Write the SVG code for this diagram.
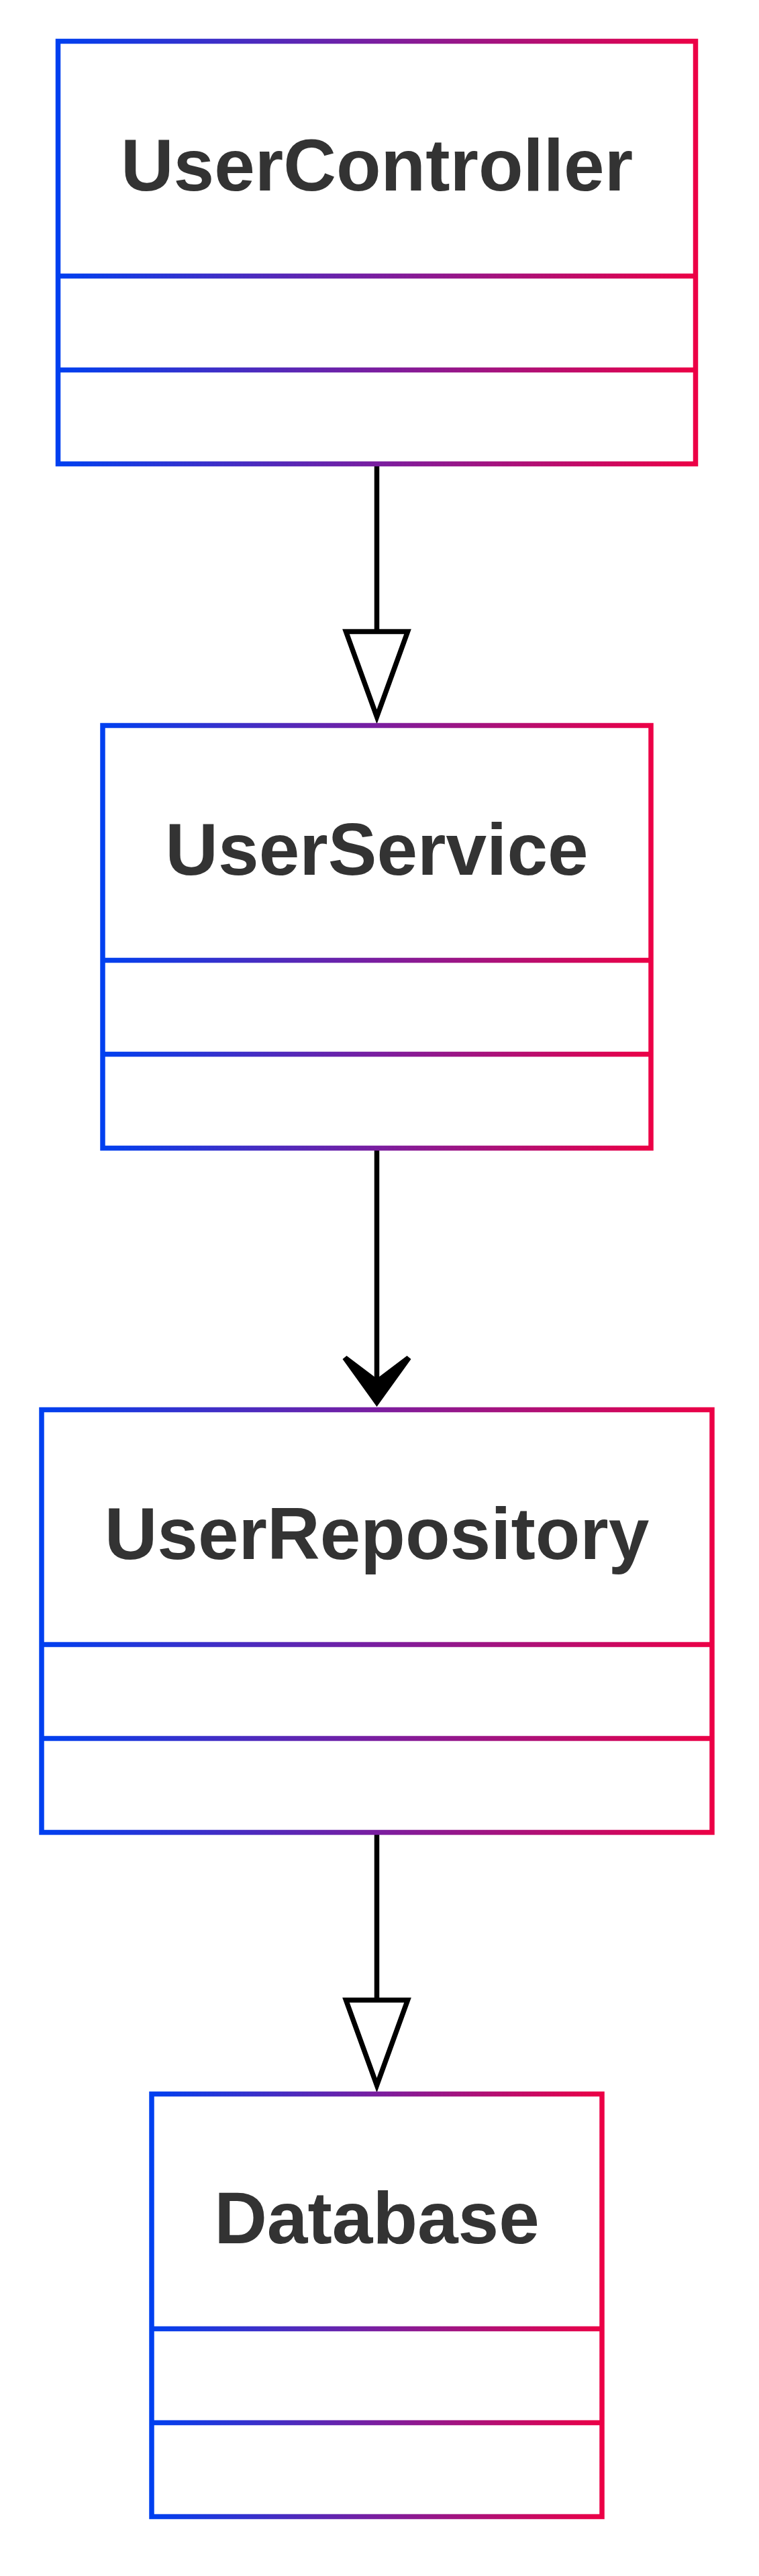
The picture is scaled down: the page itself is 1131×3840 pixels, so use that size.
<svg xmlns="http://www.w3.org/2000/svg" width="1131" height="3840" viewBox="0 0 1131 3840">
  <defs>
    <linearGradient id="boxGrad" x1="0" y1="0" x2="1" y2="0">
      <stop offset="0" stop-color="#0040f0"/>
      <stop offset="0.5" stop-color="#7a1ea0"/>
      <stop offset="1" stop-color="#ec0046"/>
    </linearGradient>
    <path id="hollowTri" d="M -46 0 L 46 0 L 0 127 Z" fill="#ffffff" stroke="#000000" stroke-width="7.5" stroke-linejoin="miter" stroke-miterlimit="10"/>
    <path id="filledArrow" d="M 0 0 L -51 -71 L -45 -76 L 0 -42 L 45 -76 L 51 -71 Z" fill="#000000"/>
  </defs>
  <style>
    .box { fill: #ffffff; stroke: url(#boxGrad); stroke-width: 7.5; }
    .label { font-family: "Liberation Sans", Arial, sans-serif; font-weight: bold; font-size: 109px; fill: #333333; text-anchor: middle; }
    .edge { stroke: #000000; stroke-width: 7.5; fill: none; }
  </style>
  <rect x="0" y="0" width="1131" height="3840" fill="#ffffff"/>

  <g id="connectors">
    <g id="edge-controller-service">
      <line class="edge" x1="561.5" y1="691.5" x2="561.5" y2="941.5"/>
      <use href="#hollowTri" x="561.5" y="941.5"/>
    </g>
    <g id="edge-service-repository">
      <line class="edge" x1="561.5" y1="1711.5" x2="561.5" y2="2058"/>
      <use href="#filledArrow" x="561.5" y="2097"/>
    </g>
    <g id="edge-repository-database">
      <line class="edge" x1="561.5" y1="2731.5" x2="561.5" y2="2981.5"/>
      <use href="#hollowTri" x="561.5" y="2981.5"/>
    </g>
  </g>

  <g id="UserController">
    <path class="box" d="M 86.5 61.5 H 1036.5 V 691.5 H 86.5 Z M 86.5 411.5 H 1036.5 M 86.5 551.5 H 1036.5"/>
    <text class="label" x="561.5" y="283.5">UserController</text>
  </g>

  <g id="UserService">
    <path class="box" d="M 153 1081.5 H 970 V 1711.5 H 153 Z M 153 1431.5 H 970 M 153 1571.5 H 970"/>
    <text class="label" x="561.5" y="1303.5">UserService</text>
  </g>

  <g id="UserRepository">
    <path class="box" d="M 62 2101.5 H 1061 V 2731.5 H 62 Z M 62 2451.5 H 1061 M 62 2591.5 H 1061"/>
    <text class="label" x="561.5" y="2323.5">UserRepository</text>
  </g>

  <g id="Database">
    <path class="box" d="M 226 3121.5 H 897 V 3751.5 H 226 Z M 226 3471.5 H 897 M 226 3611.5 H 897"/>
    <text class="label" x="561.5" y="3343.5">Database</text>
  </g>
</svg>
